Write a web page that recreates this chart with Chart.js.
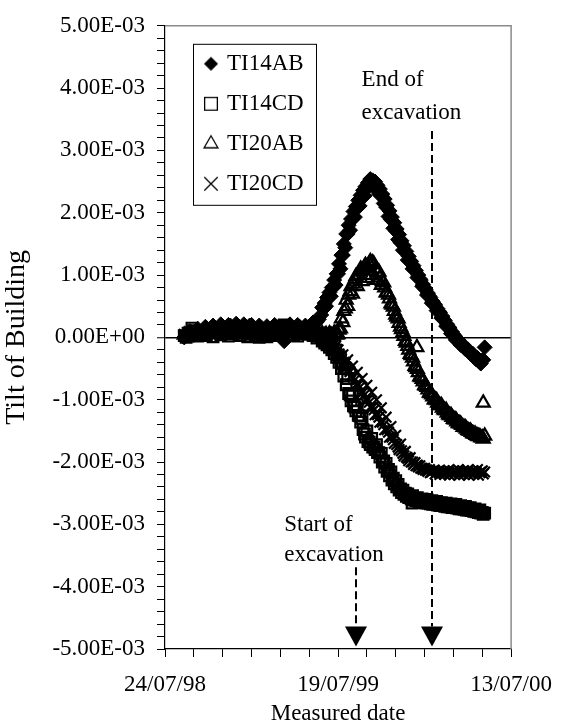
<!DOCTYPE html>
<html>
<head>
<meta charset="utf-8">
<script src="https://cdn.jsdelivr.net/npm/chart.js@4.4.0/dist/chart.umd.min.js"></script>
<style>
html,body{margin:0;padding:0;background:#fff;}
canvas{display:block;}
</style>
</head>
<body>
<canvas id="c" width="566" height="722" style="width:566px;height:722px"></canvas>
<script>
// Measured date, in days after 24/07/98 (first set of readings)
const days = [
  40,48,56,64,72,80,88,96,104,112,120,128,136,144,152,160,168,176,184,192,200,208,216,224,232,240,248,256,264,272,280,288,296,304,312,320,
  325,330,335,340,345,350,355,360,365,370,375,380,385,390,395,400,405,410,415,420,425,430,435,440,445,450,455,460,465,470,
  475,480,485,490,495,500,505,510,515,520,525,530,535,540,545,550,555,560,565,570,575,580,585,590,595,600,605,610,615,620,
  625,630,635,640,645,650,655,660,665
];
// Tilt of building, in units of 1.00E-03
const ti14ab = [
  0.00,0.03,0.06,0.09,0.07,0.11,0.13,0.10,0.15,0.12,0.17,0.14,0.19,0.15,0.18,0.13,0.17,0.19,0.14,0.12,0.16,0.13,0.10,0.13,0.15,0.11,-0.06,0.12,0.16,0.13,0.17,0.14,0.12,0.17,0.22,0.29,
  0.36,0.46,0.50,0.63,0.66,0.80,0.84,1.02,1.10,1.32,1.44,1.66,1.72,1.90,1.93,2.09,2.11,2.26,2.27,2.41,2.42,2.50,2.41,2.42,2.30,2.28,2.15,2.09,1.94,1.89,
  1.75,1.71,1.57,1.52,1.40,1.37,1.24,1.22,1.10,1.08,0.96,0.94,0.82,0.80,0.68,0.66,0.55,0.54,0.43,0.42,0.31,0.29,0.18,0.17,0.06,0.05,-0.04,-0.04,-0.12,-0.12,
  -0.19,-0.19,-0.26,-0.26,-0.33,-0.33,-0.40,-0.37,-0.16
];
const ti14cd = [
  0.03,0.07,0.15,0.05,0.10,0.07,0.11,0.08,0.12,0.09,0.13,0.08,0.11,0.14,0.09,0.12,0.07,0.10,0.08,0.06,0.09,0.07,0.05,0.09,0.12,0.18,0.20,0.17,0.13,0.10,0.08,0.11,0.13,0.10,0.07,0.02,
  0.00,-0.05,-0.05,-0.11,-0.12,-0.19,-0.20,-0.28,-0.33,-0.42,-0.50,-0.66,-0.92,-0.94,-1.12,-1.08,-1.26,-1.30,-1.55,-1.50,-1.68,-1.62,-1.76,-1.72,-1.85,-1.86,-1.98,-2.02,-2.12,-2.16,
  -2.26,-2.30,-2.36,-2.43,-2.45,-2.50,-2.51,-2.55,-2.54,-2.58,-2.57,-2.60,-2.59,-2.62,-2.60,-2.63,-2.62,-2.65,-2.63,-2.66,-2.65,-2.67,-2.66,-2.69,-2.67,-2.70,-2.68,-2.71,-2.70,-2.73,
  -2.71,-2.74,-2.73,-2.76,-2.75,-2.78,-2.77,-2.81,-2.82
];
const ti20ab = [
  0.04,0.06,0.03,0.07,0.05,0.08,0.06,0.09,0.07,0.10,0.08,0.11,0.09,0.07,0.10,0.08,0.06,0.09,0.07,0.10,0.08,0.06,0.09,0.11,0.08,0.10,0.07,0.09,0.11,0.08,0.10,0.07,0.09,0.06,0.05,0.03,
  0.04,0.02,0.05,0.01,0.04,0.02,0.06,0.05,0.14,0.24,0.46,0.50,0.74,0.70,0.93,0.82,1.05,0.90,1.13,0.95,1.18,1.00,1.17,0.92,1.05,0.84,0.88,0.72,0.68,0.54,
  0.49,0.36,0.30,0.17,0.08,-0.06,-0.14,-0.27,-0.33,-0.46,-0.51,-0.63,-0.67,-0.77,-0.80,-0.89,-0.92,-1.00,-1.01,-1.08,-1.09,-1.16,-1.17,-1.24,-1.25,-1.31,-1.32,-1.38,-1.39,-1.44,
  -1.45,-1.49,-1.50,-1.54,-1.55,-1.58,-1.59,-1.61,-1.58
];
const ti20cd = [
  0.05,0.02,0.07,0.04,0.08,0.06,0.03,0.08,0.05,0.09,0.06,0.10,0.07,0.05,0.08,0.11,0.07,0.05,0.09,0.06,0.04,0.08,0.10,0.07,0.05,0.09,0.12,0.08,0.06,0.10,0.07,0.05,0.08,0.10,0.06,0.04,
  0.03,0.01,-0.01,-0.05,-0.06,-0.13,-0.14,-0.20,-0.30,-0.28,-0.42,-0.36,-0.55,-0.46,-0.68,-0.56,-0.80,-0.66,-0.92,-0.77,-1.04,-0.88,-1.16,-1.00,-1.28,-1.13,-1.40,-1.28,-1.52,-1.43,
  -1.64,-1.57,-1.76,-1.71,-1.86,-1.83,-1.94,-1.93,-2.00,-2.01,-2.05,-2.06,-2.10,-2.10,-2.13,-2.12,-2.16,-2.13,-2.17,-2.14,-2.18,-2.14,-2.17,-2.13,-2.18,-2.14,-2.17,-2.12,-2.18,-2.14,
  -2.17,-2.13,-2.18,-2.14,-2.17,-2.12,-2.17,-2.14,-2.16
];
// Second set of readings (days after 24/07/98)
const flatDaysB = [44,52,60,68,76,84,92,100,108,116,124,132,140,148,156,164,172,180,188,196,204,212,220,228,236,244,252,260,268,276,284,292,300,308,316];
const ti14abFlatB = [0.06,0.10,0.04,0.14,0.09,0.17,0.08,0.19,0.10,0.21,0.11,0.20,0.09,0.22,0.10,0.21,0.12,0.20,0.08,0.19,0.07,0.18,0.09,0.20,0.08,0.17,0.09,0.21,0.10,0.20,0.08,0.19,0.10,0.24,0.25];
const ti14cdFlatB = [0.00,0.04,0.11,0.02,0.06,0.03,0.08,0.01,0.07,0.04,0.09,0.02,0.06,0.10,0.03,0.07,0.01,0.05,0.02,0.00,0.04,0.01,0.03,0.06,0.14,0.16,0.12,0.08,0.04,0.02,0.06,0.09,0.05,0.03,-0.01];
const daysB = [
  327,332,337,342,347,352,357,362,367,372,377,382,387,392,397,402,407,412,417,422,427,432,437,442,447,452,457,462,467,472,
  477,482,487,492,497,502,507,512,517,522,527,532,537,542,547,552,557,562,567,572,577,582,587,592,597,602,607,612,617,622,
  627,632,637,642,647,652,657,662
];
const ti14abB = [
  0.48,0.55,0.64,0.72,0.80,0.92,1.02,1.18,1.32,1.50,1.66,1.80,1.90,2.02,2.10,2.20,2.28,2.36,2.42,2.48,2.54,2.52,2.50,2.44,2.38,2.30,2.22,2.12,2.03,1.93,
  1.84,1.74,1.65,1.55,1.47,1.38,1.30,1.22,1.15,1.07,1.00,0.92,0.85,0.77,0.71,0.64,0.58,0.52,0.46,0.40,0.34,0.27,0.21,0.15,0.09,0.03,-0.02,-0.06,-0.11,-0.15,
  -0.19,-0.23,-0.27,-0.31,-0.35,-0.38,-0.42,-0.36
];
const ti14cdB = [
  -0.06,-0.09,-0.12,-0.16,-0.20,-0.26,-0.32,-0.40,-0.50,-0.62,-0.76,-0.90,-1.02,-1.10,-1.18,-1.25,-1.36,-1.48,-1.60,-1.67,-1.72,-1.76,-1.80,-1.85,-1.92,-2.00,-2.08,-2.15,-2.22,-2.29,
  -2.35,-2.40,-2.45,-2.49,-2.52,-2.55,-2.57,-2.59,-2.61,-2.62,-2.63,-2.64,-2.65,-2.66,-2.66,-2.67,-2.68,-2.68,-2.69,-2.70,-2.70,-2.71,-2.72,-2.72,-2.73,-2.73,-2.74,-2.75,-2.75,-2.76,
  -2.77,-2.77,-2.78,-2.79,-2.80,-2.81,-2.82,-2.84
];
const ti20abB = [
  0.06,0.03,0.02,0.06,0.03,0.07,0.04,0.12,0.30,0.42,0.60,0.68,0.82,0.86,0.98,1.00,1.10,1.08,1.16,1.12,1.22,1.20,1.10,1.04,0.96,0.90,0.80,0.72,0.62,0.52,
  0.42,0.33,0.23,0.13,0.02,-0.09,-0.20,-0.29,-0.39,-0.48,-0.56,-0.64,-0.71,-0.78,-0.84,-0.90,-0.95,-1.00,-1.05,-1.09,-1.13,-1.17,-1.21,-1.25,-1.28,-1.32,-1.35,-1.38,-1.41,-1.44,
  -1.47,-1.50,-1.52,-1.55,-1.57,-1.59,-1.61,-1.63
];
const ti20cdB = [
  0.00,-0.02,-0.04,-0.08,-0.12,-0.17,-0.22,-0.27,-0.35,-0.40,-0.48,-0.52,-0.62,-0.64,-0.76,-0.76,-0.88,-0.88,-1.00,-1.00,-1.12,-1.12,-1.24,-1.24,-1.36,-1.36,-1.48,-1.48,-1.60,-1.60,
  -1.70,-1.72,-1.80,-1.82,-1.90,-1.92,-1.98,-2.00,-2.04,-2.06,-2.08,-2.10,-2.12,-2.13,-2.15,-2.17,-2.14,-2.19,-2.15,-2.20,-2.16,-2.20,-2.15,-2.21,-2.16,-2.20,-2.15,-2.21,-2.16,-2.20,
  -2.15,-2.21,-2.16,-2.20,-2.15,-2.21,-2.16,-2.19
];
// isolated readings
const ti14cdExtraDays = [514];
const ti14cdExtraVals = [-2.66];
const ti20abExtraDays = [524, 662];
const ti20abExtraVals = [-0.16, -1.05];

const seriesNames = ['TI14AB', 'TI14CD', 'TI20AB', 'TI20CD'];
const xTickLabels = ['24/07/98', '19/07/99', '13/07/00'];
const yTickLabels = ['-5.00E-03','-4.00E-03','-3.00E-03','-2.00E-03','-1.00E-03','0.00E+00','1.00E-03','2.00E-03','3.00E-03','4.00E-03','5.00E-03'];

const annotations = [
  {lines: ['Start of', 'excavation'], textDay: 248, textVals: [-3.10, -3.59], arrowDay: 397, arrowFrom: -3.69, arrowTo: -4.96},
  {lines: ['End of', 'excavation'], textDay: 409, textVals: [4.03, 3.51], arrowDay: 555, arrowFrom: 3.31, arrowTo: -4.96}
];

const pts = (xs, ys) => xs.map((d, i) => ({x: d, y: ys[i]}));
const FONT = '"Liberation Serif", "Times New Roman", serif';
Chart.defaults.font.family = FONT;
Chart.defaults.color = '#000';

// legend marker icons (style only)
const iconSpecs = [
  {pointStyle: 'rectRot', radius: 6.5, fill: '#000', bw: 1},
  {pointStyle: 'rect', radius: 9, fill: '#fff', bw: 1.3},
  {pointStyle: 'triangle', radius: 8, fill: '#fff', bw: 1.3},
  {pointStyle: 'crossRot', radius: 9.5, fill: '#fff', bw: 1.3}
];
const legendIcons = iconSpecs.map(s => {
  const cv = document.createElement('canvas');
  cv.width = 20; cv.height = 20;
  const g = cv.getContext('2d');
  g.fillStyle = s.fill; g.strokeStyle = '#000'; g.lineWidth = s.bw;
  Chart.helpers.drawPoint(g, {pointStyle: s.pointStyle, radius: s.radius, borderWidth: s.bw, rotation: 0}, 10, 10);
  return cv;
});

const placeLegend = {
  id: 'placeLegend',
  afterLayout(chart) {
    const lg = chart.legend, a = chart.chartArea;
    if (!lg) return;
    lg.left = a.left + 24.5;
    lg.right = a.right;
    lg.width = a.right - lg.left;
    lg.top = a.top + 9.5;
    lg.bottom = a.bottom;
    lg.height = a.bottom - lg.top;
  }
};

const framePlugin = {
  id: 'frame',
  beforeDatasetsDraw(chart) {
    const {ctx, chartArea: a} = chart;
    ctx.save();
    ctx.strokeStyle = '#8a8a8a';
    ctx.lineWidth = 1.5;
    ctx.beginPath();
    ctx.moveTo(a.left, a.top);
    ctx.lineTo(a.right, a.top);
    ctx.lineTo(a.right, a.bottom);
    ctx.stroke();
    ctx.restore();
  }
};

const annotPlugin = {
  id: 'annot',
  afterDraw(chart) {
    const {ctx, chartArea: a} = chart;
    const xs = chart.scales.x, ys = chart.scales.y;
    ctx.save();
    ctx.strokeStyle = '#000';
    ctx.lineWidth = 1;
    ctx.strokeRect(a.left + 28.5, a.top + 18.5, 123, 161);
    ctx.fillStyle = '#000';
    ctx.font = '23px ' + FONT;
    ctx.textAlign = 'left';
    ctx.textBaseline = 'alphabetic';
    annotations.forEach(an => {
      const tx = xs.getPixelForValue(an.textDay);
      an.lines.forEach((t, i) => ctx.fillText(t, tx, ys.getPixelForValue(an.textVals[i])));
      const ax = Math.round(xs.getPixelForValue(an.arrowDay));
      const y0 = ys.getPixelForValue(an.arrowFrom);
      const y1 = ys.getPixelForValue(an.arrowTo);
      const headH = 20, headW = 11;
      ctx.setLineDash([8, 4]);
      ctx.lineWidth = 2;
      ctx.beginPath();
      ctx.moveTo(ax, y0);
      ctx.lineTo(ax, y1 - headH);
      ctx.stroke();
      ctx.setLineDash([]);
      ctx.beginPath();
      ctx.moveTo(ax - headW, y1 - headH);
      ctx.lineTo(ax + headW, y1 - headH);
      ctx.lineTo(ax, y1);
      ctx.closePath();
      ctx.fill();
    });
    ctx.restore();
  }
};

const OPEN = 'rgba(255,255,255,0)';
const datasets = [
  {label: seriesNames[0], data: pts(days, ti14ab).concat(pts(flatDaysB, ti14abFlatB), pts(daysB, ti14abB)), pointStyle: 'rectRot', pointRadius: 7.5,
   pointBackgroundColor: '#000', pointBorderColor: '#000', pointBorderWidth: 1, order: 4},
  {label: seriesNames[1], data: pts(days, ti14cd).concat(pts(flatDaysB, ti14cdFlatB), pts(daysB, ti14cdB), pts(ti14cdExtraDays, ti14cdExtraVals)), pointStyle: 'rect', pointRadius: 7.5,
   pointBackgroundColor: OPEN, pointBorderColor: '#000', pointBorderWidth: 2.2, order: 3},
  {label: seriesNames[2], data: pts(days, ti20ab).concat(pts(daysB, ti20abB), pts(ti20abExtraDays, ti20abExtraVals)), pointStyle: 'triangle', pointRadius: 7.5,
   pointBackgroundColor: OPEN, pointBorderColor: '#000', pointBorderWidth: 2.2, order: 2},
  {label: seriesNames[3], data: pts(days, ti20cd).concat(pts(daysB, ti20cdB)), pointStyle: 'crossRot', pointRadius: 7.5,
   pointBackgroundColor: OPEN, pointBorderColor: '#000', pointBorderWidth: 2.2, order: 1}
];

new Chart(document.getElementById('c'), {
  type: 'scatter',
  data: {datasets},
  plugins: [placeLegend, framePlugin, annotPlugin],
  options: {
    responsive: false,
    animation: false,
    devicePixelRatio: 1,
    events: [],
    layout: {padding: {left: 0, right: 44, top: 23, bottom: 0}},
    plugins: {
      tooltip: {enabled: false},
      legend: {
        position: 'chartArea',
        align: 'start',
        labels: {
          usePointStyle: true,
          boxWidth: 9,
          boxHeight: 10.5,
          padding: 17,
          color: '#000',
          font: {size: 23, family: FONT},
          sort: (a, b) => a.datasetIndex - b.datasetIndex,
          generateLabels: (chart) => {
            const items = Chart.defaults.plugins.legend.labels.generateLabels(chart);
            items.forEach(it => { it.pointStyle = legendIcons[it.datasetIndex]; });
            return items;
          }
        }
      }
    },
    scales: {
      x: {
        type: 'linear',
        position: 'bottom',
        min: 0, max: 720,
        afterFit: (s) => { s.height = 73; },
        ticks: {
          stepSize: 60, autoSkip: false, maxRotation: 0, minRotation: 0, padding: 14,
          color: '#000', font: {size: 23, family: FONT},
          callback: (v) => (v % 360 === 0 ? xTickLabels[v / 360] : '')
        },
        grid: {drawOnChartArea: false, drawTicks: true, tickLength: 8, tickColor: '#000', tickWidth: 1},
        border: {display: true, color: '#000', width: 1.2},
        title: {display: true, text: 'Measured date', color: '#000',
                font: {size: 23, family: FONT, lineHeight: 0.7}, padding: {top: 0, bottom: 0}}
      },
      y: {
        type: 'linear',
        min: -5, max: 5,
        afterFit: (s) => { s.width = 165; },
        ticks: {
          stepSize: 0.2, autoSkip: false, padding: 12,
          color: '#000', font: {size: 23, family: FONT},
          callback: (v) => { const k = Math.round(v * 5); return k % 5 === 0 ? yTickLabels[k / 5 + 5] : ''; }
        },
        grid: {
          drawOnChartArea: true, drawTicks: true, tickLength: 8, tickColor: '#000', tickWidth: 1,
          color: (c) => (c.tick && Math.abs(c.tick.value) < 1e-6 ? '#000' : 'rgba(0,0,0,0)'),
          lineWidth: (c) => (c.tick && Math.abs(c.tick.value) < 1e-6 ? 1.5 : 1)
        },
        border: {display: true, color: '#000', width: 1.2},
        title: {display: true, text: 'Tilt of Building', color: '#000',
                font: {size: 28, family: FONT}, padding: {top: 0, bottom: 0}}
      }
    }
  }
});
</script>
</body>
</html>
